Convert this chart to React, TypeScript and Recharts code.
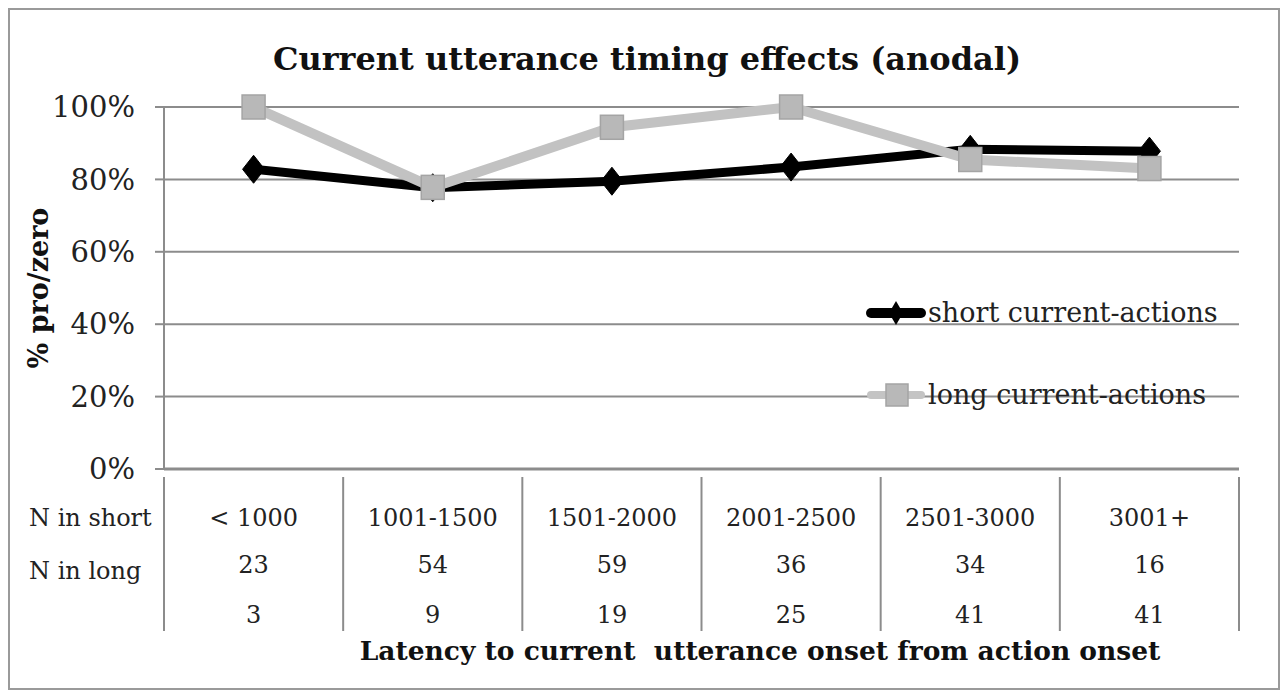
import { LineChart, Line, XAxis, YAxis, CartesianGrid, Legend } from "recharts"

const categories = ["< 1000", "1001-1500", "1501-2000", "2001-2500", "2501-3000", "3001+"]
const shortPct = [82.8, 77.7, 79.5, 83.4, 88.3, 87.8]
const longPct = [100, 77.8, 94.4, 100, 85.5, 83.0]
const nShort = [23, 54, 59, 36, 34, 16]
const nLong = [3, 9, 19, 25, 41, 41]
const yTicks = [0, 20, 40, 60, 80, 100]

const data = categories.map((c, i) => ({
    cat: c,
    short: shortPct[i],
    long: longPct[i],
    ns: nShort[i],
    nl: nLong[i],
}))

const W = 1268
const H = 678
const margin = { top: 97, right: 39, left: 0, bottom: 0 }
const yAxisW = 154
const band = (W - margin.right - margin.left - yAxisW) / categories.length

const SERIF = "'DejaVu Serif', serif"
const GRID = "#8c8c8c"

function Diamond(props: any) {
    const { cx, cy } = props
    if (cx == null || cy == null) return null
    return (
        <polygon
            points={`${cx},${cy - 14} ${cx + 11},${cy} ${cx},${cy + 14} ${cx - 11},${cy}`}
            fill="#000"
            stroke="#000"
            strokeLinejoin="round"
        />
    )
}

function Square(props: any) {
    const { cx, cy } = props
    if (cx == null || cy == null) return null
    return <rect x={cx - 11.5} y={cy - 12} width={23} height={24} fill="#b8b8b8" stroke="#a4a4a4" strokeWidth={1.5} />
}

function TableTick(props: any) {
    const { x, y, payload, index } = props
    const row = data[index]
    const left = x - band / 2
    return (
        <g fontFamily={SERIF} fontSize={24} fill="#222">
            <line x1={left} y1={y} x2={left} y2={y + 154} stroke={GRID} strokeWidth={2} />
            {index === categories.length - 1 && (
                <line x1={left + band} y1={y} x2={left + band} y2={y + 154} stroke={GRID} strokeWidth={2} />
            )}
            {index === 0 && (
                <>
                    <text x={left - 135} y={y + 49} textAnchor="start" fill="#222">N in short</text>
                    <text x={left - 135} y={y + 102} textAnchor="start" fill="#222">N in long</text>
                </>
            )}
            <text x={x} y={y + 49} textAnchor="middle" fill="#222">{payload.value}</text>
            <text x={x} y={y + 96} textAnchor="middle" fill="#222">{row.ns}</text>
            <text x={x} y={y + 146} textAnchor="middle" fill="#222">{row.nl}</text>
        </g>
    )
}

function LegendBox() {
    const rowStyle: React.CSSProperties = { display: "flex", alignItems: "center", height: 40, whiteSpace: "nowrap" }
    const textStyle: React.CSSProperties = { fontFamily: SERIF, fontSize: 27, color: "#222", marginLeft: 2, lineHeight: "40px" }
    return (
        <div style={{ width: 420 }}>
            <div style={rowStyle}>
                <svg width={60} height={40}>
                    <line x1={5} y1={20} x2={55} y2={20} stroke="#000" strokeWidth={10} strokeLinecap="round" />
                    <polygon points="30,8 37,20 30,32 23,20" fill="#000" />
                </svg>
                <span style={textStyle}>short current-actions</span>
            </div>
            <div style={{ height: 42 }} />
            <div style={rowStyle}>
                <svg width={60} height={40}>
                    <line x1={5} y1={20} x2={55} y2={20} stroke="#c4c4c4" strokeWidth={8} strokeLinecap="round" />
                    <rect x={20} y={9} width={22} height={22} fill="#b8b8b8" stroke="#a4a4a4" strokeWidth={1.5} />
                </svg>
                <span style={textStyle}>long current-actions</span>
            </div>
        </div>
    )
}

export default function App() {
    return (
        <div
            style={{
                position: "absolute",
                left: 8,
                top: 8,
                width: 1272,
                height: 682,
                boxSizing: "border-box",
                border: "2px solid #9a9a9a",
                background: "#fff",
            }}
        >
            <div
                style={{
                    position: "absolute",
                    left: 0,
                    width: 1274,
                    top: 30,
                    textAlign: "center",
                    fontFamily: SERIF,
                    fontWeight: "bold",
                    fontSize: 32,
                    color: "#111",
                }}
            >
                Current utterance timing effects (anodal)
            </div>
            <div
                style={{
                    position: "absolute",
                    left: 0,
                    width: 1500,
                    top: 625,
                    textAlign: "center",
                    fontFamily: SERIF,
                    fontWeight: "bold",
                    fontSize: 26.5,
                    color: "#111",
                    whiteSpace: "pre",
                }}
            >
                Latency to current  utterance onset from action onset
            </div>
            <LineChart width={W} height={H} data={data} margin={margin}>
                <CartesianGrid horizontal vertical={false} stroke={GRID} strokeWidth={2} />
                <XAxis
                    dataKey="cat"
                    height={219}
                    padding={{ left: band / 2, right: band / 2 }}
                    axisLine={{ stroke: GRID, strokeWidth: 3 }}
                    tickLine={false}
                    tick={<TableTick />}
                    interval={0}
                />
                <YAxis
                    width={yAxisW}
                    domain={[0, 100]}
                    ticks={yTicks}
                    tickFormatter={(v) => `${v}%`}
                    axisLine={{ stroke: GRID, strokeWidth: 2 }}
                    tickLine={{ stroke: GRID, strokeWidth: 2 }}
                    tickSize={9}
                    tickMargin={20}
                    tick={{ fontFamily: SERIF, fontSize: 29, fill: "#222" }}
                    label={{
                        value: "% pro/zero",
                        angle: -90,
                        position: "center",
                        dx: -49,
                        fontFamily: SERIF,
                        fontWeight: "bold",
                        fontSize: 27,
                        fill: "#111",
                    }}
                />
                <Line
                    dataKey="short"
                    stroke="#000"
                    strokeWidth={9}
                    dot={<Diamond />}
                    activeDot={false}
                    isAnimationActive={false}
                />
                <Line
                    dataKey="long"
                    stroke="#c2c2c2"
                    strokeWidth={10}
                    dot={<Square />}
                    activeDot={false}
                    isAnimationActive={false}
                />
                <Legend
                    layout="vertical"
                    content={<LegendBox />}
                    wrapperStyle={{ left: 856, top: 283, width: 0, height: 0, overflow: "visible" }}
                />
            </LineChart>
        </div>
    )
}
